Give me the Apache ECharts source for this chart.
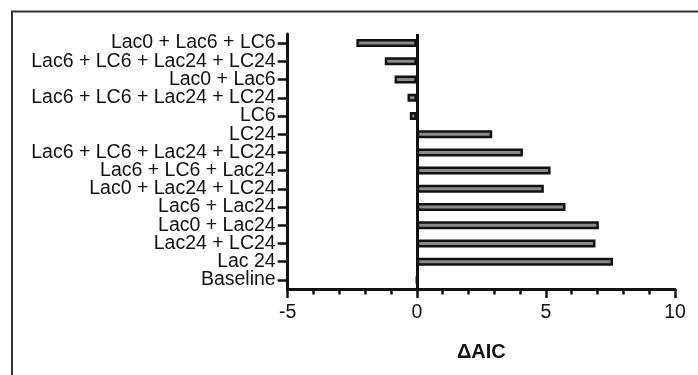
<!DOCTYPE html>
<html>
<head>
<meta charset="utf-8">
<script src="https://cdn.jsdelivr.net/npm/echarts@6/dist/echarts.min.js"></script>
<style>
  html, body { margin: 0; padding: 0; background: #fff; }
  #chart { width: 698px; height: 375px; }
</style>
</head>
<body>
<div id="chart"></div>
<script>
// ── data (top to bottom) ──
const models = [
  'Lac0 + Lac6 + LC6',
  'Lac6 + LC6 + Lac24 + LC24',
  'Lac0 + Lac6',
  'Lac6 + LC6 + Lac24 + LC24',
  'LC6',
  'LC24',
  'Lac6 + LC6 + Lac24 + LC24',
  'Lac6 + LC6 + Lac24',
  'Lac0 + Lac24 + LC24',
  'Lac6 + Lac24',
  'Lac0 + Lac24',
  'Lac24 + LC24',
  'Lac 24',
  'Baseline',
]
const deltaAIC = [-2.34, -1.24, -0.86, -0.36, -0.27, 2.92, 4.11, 5.18, 4.92, 5.76, 7.05, 6.92, 7.60, 0]
const xTicks = [-5, 0, 5, 10]

const FONT = "'Liberation Sans', Arial, sans-serif"
const INK = '#111'

const chart = echarts.init(document.getElementById('chart'), undefined, { renderer: 'canvas' })

chart.setOption({
  backgroundColor: '#fff',
  animation: false,
  textStyle: { fontFamily: FONT, color: INK },
  grid: { left: 287.7, right: 23, top: 34, bottom: 86 },
  xAxis: {
    type: 'value',
    min: xTicks[0], max: xTicks[xTicks.length - 1], interval: 5,
    splitLine: { show: false },
    axisLine: { show: true, onZero: false, lineStyle: { color: INK, width: 3 } },
    axisTick: { show: true, length: 9, lineStyle: { color: INK, width: 2.5 } },
    minorTick: { show: true, splitNumber: 5, length: 5.5, lineStyle: { color: INK, width: 2.5 } },
    axisLabel: { fontSize: 19.5, color: INK, margin: 14, fontFamily: FONT },
    name: 'ΔAIC', nameLocation: 'middle', nameGap: 53,
    nameTextStyle: { fontSize: 20, fontWeight: 'bold', color: INK, fontFamily: FONT },
  },
  yAxis: {
    type: 'category', inverse: true, data: models,
    axisLine: { show: true, onZero: false, lineStyle: { color: INK, width: 3 } },
    axisTick: { show: true, alignWithLabel: true, length: 10, lineStyle: { color: INK, width: 2.5 } },
    axisLabel: { fontSize: 19.5, color: INK, margin: 12, interval: 0, fontFamily: FONT },
    splitLine: { show: false },
  },
  series: [{
    type: 'bar',
    data: deltaAIC,
    barWidth: 8,
    itemStyle: { color: '#8a8a8a', borderColor: INK, borderWidth: 2.5 },
    markLine: {
      silent: true, symbol: 'none', label: { show: false },
      lineStyle: { color: INK, width: 3, type: 'solid' },
      data: [{ xAxis: 0 }],
    },
  }],
  graphic: [{
    type: 'polyline',
    shape: { points: [[12, 375], [12, 11.5], [698, 11.5]] },
    style: { stroke: '#333', lineWidth: 2, fill: null },
  }],
})
</script>
</body>
</html>
